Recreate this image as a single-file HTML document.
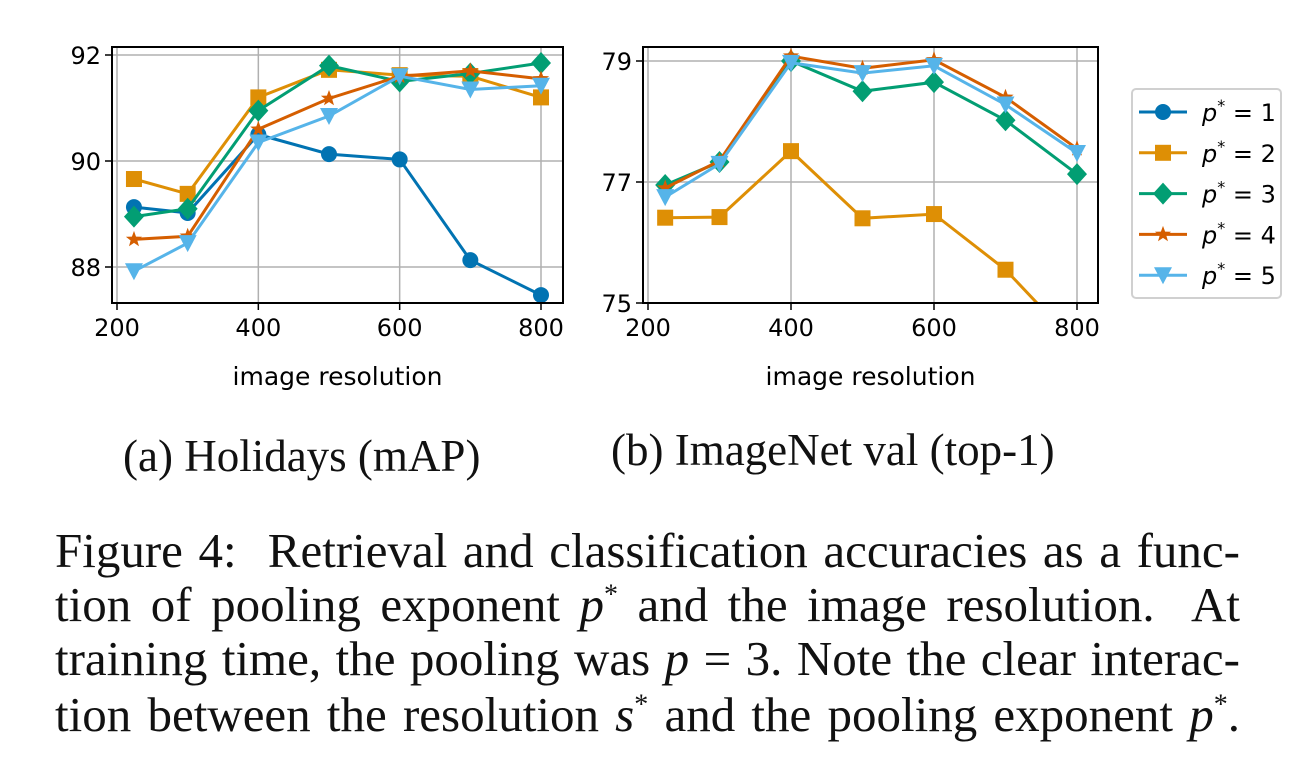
<!DOCTYPE html>
<html><head><meta charset="utf-8"><style>
body{margin:0;background:#fff;width:1304px;height:778px;overflow:hidden}
svg{position:absolute;left:0;top:0}
.cap{position:absolute;font-family:"Liberation Serif",serif;color:#111;white-space:nowrap}
.ln{position:absolute;left:55px;width:1185px;font-family:"Liberation Serif",serif;color:#111;font-size:49px;text-align:justify;text-align-last:justify;white-space:nowrap}
sup{font-size:28px;line-height:0}
</style></head><body>
<svg id="fig" width="1304" height="420"></svg>
<div class="cap" style="left:123px;top:430px;font-size:45px">(a) Holidays (mAP)</div>
<div class="cap" style="left:611px;top:424px;font-size:45px">(b) ImageNet val (top-1)</div>
<div>
<div class="ln" style="top:522px;white-space:normal">Figure 4:&nbsp; Retrieval and classification accuracies as a func-</div>
<div class="ln" style="top:576px;white-space:normal">tion of pooling exponent <i>p</i><sup>*</sup> and the image resolution.&nbsp; At</div>
<div class="ln" style="top:630px;white-space:normal">training time, the pooling was <i>p</i> = 3. Note the clear interac-</div>
<div class="ln" style="top:686px;white-space:normal">tion between the resolution <i>s</i><sup>*</sup> and the pooling exponent <i>p</i><sup>*</sup>.</div>
</div>
<script>
const resolutions=[224,300,400,500,600,700,800];
const holP1=[89.13,89.02,90.5,90.13,90.03,88.13,87.47];
const holP2=[89.66,89.38,91.2,91.72,91.62,91.6,91.2];
const holP3=[88.95,89.1,90.95,91.8,91.5,91.65,91.85];
const holP4=[88.52,88.58,90.6,91.18,91.6,91.7,91.55];
const holP5=[87.92,88.45,90.35,90.85,91.6,91.35,91.42];
const inP1=[73.5,73.8,74.2,73.9,73.6,72.5,71.5];
const inP2=[76.41,76.42,77.51,76.4,76.47,75.55,74.3];
const inP3=[76.95,77.33,79.0,78.5,78.65,78.02,77.13];
const inP4=[76.9,77.35,79.08,78.88,79.02,78.4,77.55];
const inP5=[76.75,77.3,78.97,78.8,78.92,78.28,77.48];
const xTicks=[200,400,600,800];
const holYTicks=[88,90,92];
const inYTicks=[75,77,79];
const seriesLabels=["1","2","3","4","5"];
const colors=["#0173b2","#de8f05","#029e73","#d55e00","#56b4e9"];
const markers=["circle","square","diamond","star","tri"];
const NS="http://www.w3.org/2000/svg";
const svg=document.getElementById('fig');
function el(t,a,p){const e=document.createElementNS(NS,t);for(const k in a)e.setAttribute(k,a[k]);(p||svg).appendChild(e);return e;}
function marker(m,x,y,c,g){
  let e;
  if(m==="circle")e=el('circle',{cx:x,cy:y,r:8,fill:c},g);
  else if(m==="square")e=el('rect',{x:x-8,y:y-8,width:16,height:16,fill:c},g);
  else if(m==="diamond")e=el('polygon',{points:`${x},${y-11} ${x+10},${y} ${x},${y+11} ${x-10},${y}`,fill:c},g);
  else if(m==="star"){let p=[];for(let i=0;i<10;i++){const r=i%2?3.5:8.5,a=-Math.PI/2+i*Math.PI/5;p.push((x+r*Math.cos(a)).toFixed(1)+","+(y+r*Math.sin(a)).toFixed(1));}e=el('polygon',{points:p.join(' '),fill:c},g);}
  else e=el('polygon',{points:`${x-9},${y-8} ${x+9},${y-8} ${x},${y+9}`,fill:c},g);
  
  
}
function panel(id,box,x0px,x1px,yTicks,y0px,y1px,data){
  const g=el('g',{});
  
  
  const sx=v=>x0px+(v-200)/600*(x1px-x0px);
  const sy=v=>y0px+(v-yTicks[0])/(yTicks[2]-yTicks[0])*(y1px-y0px);
  const cid=id+'-clip';
  const d=el('clipPath',{id:cid},g);el('rect',{x:box[0],y:box[1],width:box[2]-box[0],height:box[3]-box[1]},d);
  xTicks.forEach(t=>{const x=sx(t);
    el('line',{x1:x,x2:x,y1:box[1],y2:box[3],stroke:'#b0b0b0','stroke-width':1.5},g);
    el('line',{x1:x,x2:x,y1:box[3],y2:box[3]+7,stroke:'#000','stroke-width':1.5},g);
    const tx=el('text',{x:x,y:box[3]+33,'text-anchor':'middle','font-size':24,'font-family':'DejaVu Sans, sans-serif'},g);tx.textContent=t;
    });
  yTicks.forEach(t=>{const y=sy(t);
    el('line',{x1:box[0],x2:box[2],y1:y,y2:y,stroke:'#b0b0b0','stroke-width':1.5},g);
    el('line',{x1:box[0]-7,x2:box[0],y1:y,y2:y,stroke:'#000','stroke-width':1.5},g);
    const tx=el('text',{x:box[0]-11,y:y+9,'text-anchor':'end','font-size':24,'font-family':'DejaVu Sans, sans-serif'},g);tx.textContent=t;
    });
  const pg=el('g',{'clip-path':`url(#${cid})`},g);
  data.forEach((s,i)=>{
    const pts=s.map((v,j)=>sx(resolutions[j]).toFixed(1)+','+sy(v).toFixed(1)).join(' ');
    const l=el('polyline',{points:pts,fill:'none',stroke:colors[i],'stroke-width':3},pg);
    
    s.forEach((v,j)=>marker(markers[i],sx(resolutions[j]),sy(v),colors[i],pg));
  });
  el('rect',{x:box[0],y:box[1],width:box[2]-box[0],height:box[3]-box[1],fill:'none',stroke:'#000','stroke-width':2},g);
  const xl=el('text',{x:(box[0]+box[2])/2,y:box[3]+82,'text-anchor':'middle','font-size':25,'font-family':'DejaVu Sans, sans-serif'},g);xl.textContent='image resolution';
  
}
panel('holidays-chart',[112,47,563,303],117,541,holYTicks,267,55,[holP1,holP2,holP3,holP4,holP5]);
panel('imagenet-chart',[643,47,1098,303],648,1077,inYTicks,303,61,[inP1,inP2,inP3,inP4,inP5]);
const lg=el('g',{});


el('rect',{x:1132,y:89,width:149,height:209,rx:4,fill:'#fff',stroke:'#d0d0d0','stroke-width':2},lg);
seriesLabels.forEach((s,i)=>{const y=112+i*40.8;
  const e=el('g',{},lg);
  
  
  el('line',{x1:1139,x2:1187,y1:y,y2:y,stroke:colors[i],'stroke-width':3},e);
  marker(markers[i],1163,y,colors[i],e);
  const t=el('text',{x:1202,y:y+9,'font-size':24,'font-family':'DejaVu Sans, sans-serif'},e);
  t.innerHTML=`<tspan font-style="italic">p</tspan><tspan dy="-10" font-size="16">*</tspan><tspan dy="10"> = ${s}</tspan>`;
});
</script>
</body></html>
